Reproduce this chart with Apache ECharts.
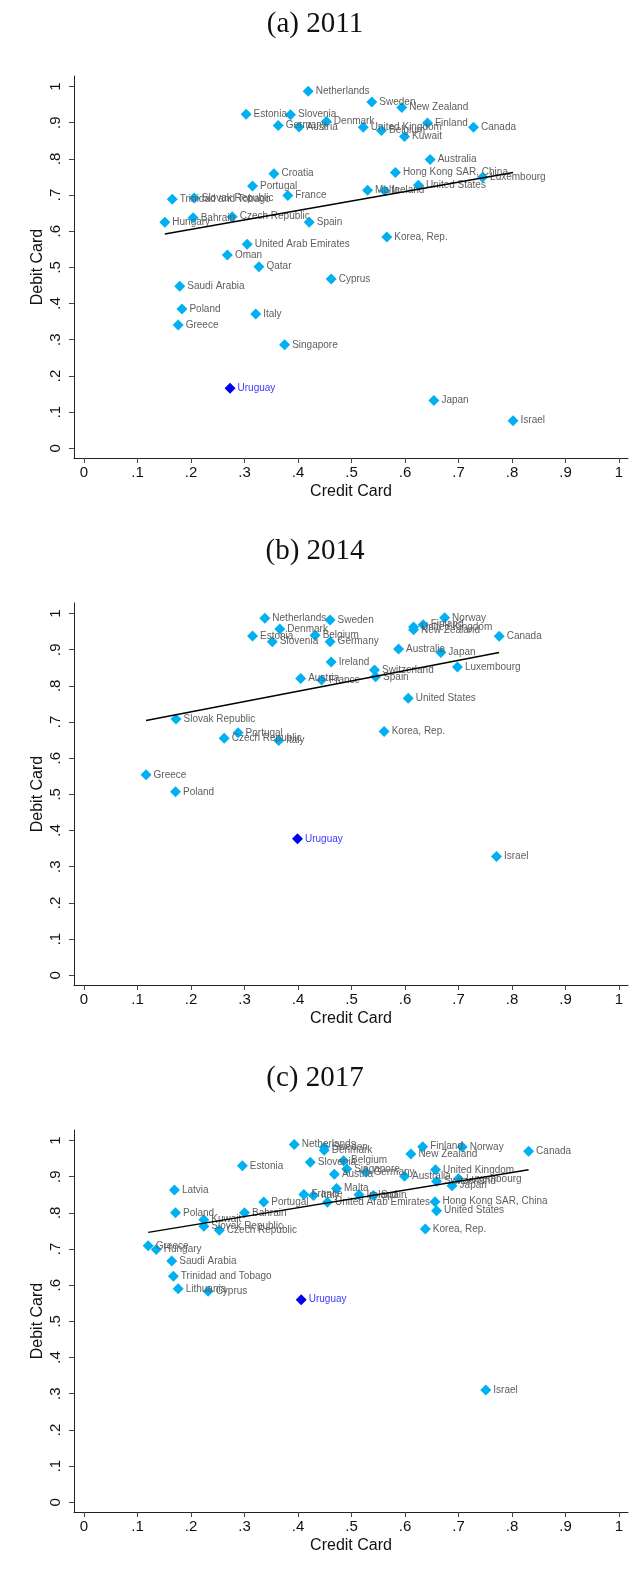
<!DOCTYPE html>
<html>
<head>
<meta charset="utf-8">
<script src="https://cdn.jsdelivr.net/npm/echarts@6.0.0/dist/echarts.min.js"></script>
<style>
  html, body { margin: 0; padding: 0; background: #fff; }
  #chart { width: 630px; height: 1571px; }
</style>
</head>
<body>
<div id="chart"></div>
<script>
// ---- data ----
const tickValues = [0, 0.1, 0.2, 0.3, 0.4, 0.5, 0.6, 0.7, 0.8, 0.9, 1];
const tickLabels = ['0', '.1', '.2', '.3', '.4', '.5', '.6', '.7', '.8', '.9', '1'];

const names2011 = ['Netherlands', 'Sweden', 'New Zealand', 'Estonia', 'Slovenia', 'Denmark', 'Finland', 'Germany', 'Austria',
  'United Kingdom', 'Canada', 'Belgium', 'Kuwait', 'Australia', 'Hong Kong SAR, China', 'Croatia', 'Luxembourg',
  'United States', 'Portugal', 'Malta', 'Iceland', 'France', 'Slovak Republic', 'Trinidad and Tobago', 'Czech Republic',
  'Bahrain', 'Hungary', 'Spain', 'Korea, Rep.', 'United Arab Emirates', 'Oman', 'Qatar', 'Cyprus', 'Saudi Arabia',
  'Poland', 'Italy', 'Greece', 'Singapore', 'Uruguay', 'Japan', 'Israel'];
const credit2011 = [.419, .538, .594, .303, .386, .453, .642, .363, .402, .522, .728, .556, .599, .647, .582, .355, .745,
  .625, .315, .530, .562, .381, .206, .165, .277, .204, .151, .421, .566, .305, .268, .327, .462, .179, .183, .321, .176,
  .375, .273, .654, .802];
const debit2011 = [.987, .957, .942, .923, .922, .903, .899, .892, .888, .887, .887, .878, .862, .798, .762, .759, .749,
  .727, .725, .713, .712, .699, .692, .688, .640, .637, .625, .625, .584, .564, .534, .502, .468, .448, .385, .371, .341,
  .286, .166, .132, .076];
const fitCredit2011 = [.151, .802];
const fitDebit2011 = [.592, .762];

const names2014 = ['Netherlands', 'Norway', 'Sweden', 'Finland', 'United Kingdom', 'Denmark', 'New Zealand', 'Belgium',
  'Estonia', 'Canada', 'Slovenia', 'Germany', 'Australia', 'Japan', 'Ireland', 'Luxembourg', 'Switzerland', 'Spain',
  'Austria', 'France', 'United States', 'Slovak Republic', 'Korea, Rep.', 'Portugal', 'Czech Republic', 'Italy',
  'Greece', 'Poland', 'Uruguay', 'Israel'];
const credit2014 = [.338, .674, .460, .634, .616, .366, .616, .432, .315, .776, .352, .460, .588, .667, .462, .698, .543,
  .545, .405, .444, .606, .172, .561, .288, .262, .364, .116, .171, .399, .771];
const debit2014 = [.987, .988, .982, .969, .963, .957, .955, .940, .938, .937, .922, .922, .902, .892, .866, .852, .844,
  .825, .820, .816, .766, .708, .674, .670, .655, .649, .554, .507, .377, .328];
const fitCredit2014 = [.116, .776];
const fitDebit2014 = [.704, .892];

const names2017 = ['Netherlands', 'Finland', 'Norway', 'Sweden', 'Denmark', 'Canada', 'New Zealand', 'Belgium', 'Slovenia',
  'Estonia', 'Singapore', 'United Kingdom', 'Germany', 'Austria', 'Australia', 'Luxembourg', 'Switzerland', 'Japan',
  'Malta', 'Latvia', 'France', 'Italy', 'Ireland', 'Spain', 'Hong Kong SAR, China', 'Portugal', 'United Arab Emirates',
  'United States', 'Poland', 'Bahrain', 'Kuwait', 'Slovak Republic', 'Korea, Rep.', 'Czech Republic', 'Greece',
  'Hungary', 'Saudi Arabia', 'Trinidad and Tobago', 'Lithuania', 'Cyprus', 'Uruguay', 'Israel'];
const credit2017 = [.393, .633, .707, .449, .449, .831, .611, .485, .423, .296, .491, .657, .527, .468, .599, .700, .659,
  .688, .472, .169, .411, .429, .514, .541, .656, .336, .455, .659, .171, .300, .224, .224, .638, .253, .120, .135, .164,
  .167, .176, .232, .406, .751];
const debit2017 = [.989, .983, .982, .981, .973, .970, .963, .944, .940, .930, .921, .919, .912, .907, .901, .894, .887,
  .875, .867, .863, .851, .848, .850, .848, .831, .830, .829, .806, .800, .800, .781, .763, .755, .752, .709, .699, .667,
  .625, .590, .583, .560, .310];
const fitCredit2017 = [.120, .831];
const fitDebit2017 = [.746, .919];

const highlight = 'Uruguay';

// ---- chart ----
const panels = [
  { title: '(a) 2011', names: names2011, credit: credit2011, debit: debit2011, fx: fitCredit2011, fy: fitDebit2011 },
  { title: '(b) 2014', names: names2014, credit: credit2014, debit: debit2014, fx: fitCredit2014, fy: fitDebit2014 },
  { title: '(c) 2017', names: names2017, credit: credit2017, debit: debit2017, fx: fitCredit2017, fy: fitDebit2017 }
];
const gridTops = [76, 603, 1130];

const fmt = v => tickLabels[Math.round(v * 10)];
const axisFont = 'Liberation Sans, Arial, sans-serif';

const option = {
  animation: false,
  backgroundColor: '#fff',
  title: [],
  grid: [],
  xAxis: [],
  yAxis: [],
  series: []
};

panels.forEach((p, i) => {
  option.title.push({
    text: p.title,
    left: 'center',
    top: gridTops[i] - 71,
    textStyle: { fontFamily: 'Liberation Serif, serif', fontWeight: 'normal', fontSize: 29, color: '#111' }
  });
  option.grid.push({ left: 74, top: gridTops[i], width: 554, height: 382, outerBoundsMode: 'none' });
  option.xAxis.push({
    gridIndex: i, type: 'value', min: -0.0187, max: 1.0168,
    splitLine: { show: false },
    axisLine: { show: true, onZero: false, lineStyle: { color: '#222', width: 1 } },
    axisTick: { show: true, customValues: tickValues, length: 5, lineStyle: { color: '#444' } },
    axisLabel: { customValues: tickValues, formatter: fmt, fontSize: 15, color: '#111', margin: 7, fontFamily: axisFont },
    name: 'Credit Card', nameLocation: 'middle', nameGap: 26, nameMoveOverlap: false,
    nameTextStyle: { fontSize: 16, color: '#111', fontFamily: axisFont }
  });
  option.yAxis.push({
    gridIndex: i, type: 'value', min: -0.027, max: 1.029,
    splitLine: { show: false },
    axisLine: { show: true, onZero: false, lineStyle: { color: '#222', width: 1 } },
    axisTick: { show: true, customValues: tickValues, length: 5, lineStyle: { color: '#444' } },
    axisLabel: { customValues: tickValues, formatter: fmt, fontSize: 15, color: '#111', margin: 11, rotate: 90, fontFamily: axisFont },
    name: 'Debit Card', nameLocation: 'middle', nameGap: 28, nameMoveOverlap: false,
    nameTextStyle: { fontSize: 16, color: '#111', fontFamily: axisFont }
  });
  option.series.push({
    type: 'scatter', xAxisIndex: i, yAxisIndex: i,
    symbol: 'diamond', symbolSize: 11,
    itemStyle: { color: '#00b0f0', opacity: 1 },
    label: {
      show: true, position: 'right', distance: 2, formatter: '{b}',
      fontSize: 10, color: '#5e5e5e', fontFamily: axisFont
    },
    data: p.names.map((n, k) => {
      const d = { name: n, value: [p.credit[k], p.debit[k]] };
      if (n === highlight) {
        d.itemStyle = { color: '#0000f0' };
        d.label = { color: '#3b3bff' };
      }
      return d;
    })
  });
  option.series.push({
    type: 'line', xAxisIndex: i, yAxisIndex: i, silent: true, z: 3,
    symbol: 'none', lineStyle: { color: '#000', width: 1.5 },
    data: p.fx.map((x, k) => [x, p.fy[k]])
  });
});

const chart = echarts.init(document.getElementById('chart'), null, { renderer: 'canvas' });
chart.setOption(option);
</script>
</body>
</html>
